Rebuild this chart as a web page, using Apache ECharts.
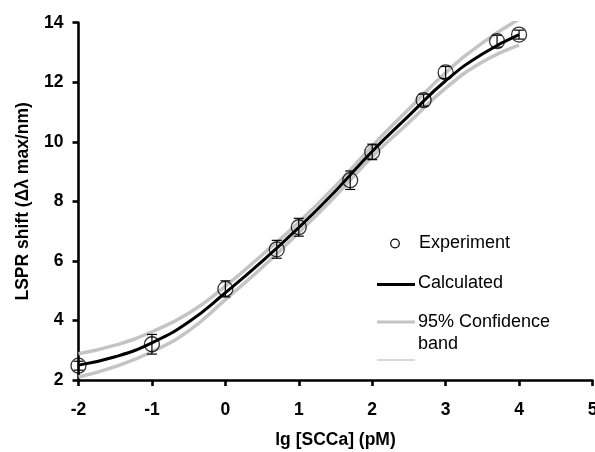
<!DOCTYPE html>
<html>
<head>
<meta charset="utf-8">
<script src="https://cdn.jsdelivr.net/npm/echarts@6/dist/echarts.min.js"></script>
<style>
html,body{margin:0;padding:0;background:#fff;}
#chart{width:595px;height:452px;}
</style>
</head>
<body>
<div id="chart"></div>
<script>
// Experimental points: lg concentration and LSPR shift
var expX = [-2, -1, 0, 0.7, 1, 1.7, 2, 2.7, 3, 3.7, 4];
var expY = [2.48, 3.2, 5.06, 6.39, 7.13, 8.71, 9.66, 11.4, 12.33, 13.38, 13.6];
var expErr = [0.15, 0.33, 0.27, 0.3, 0.3, 0.31, 0.26, 0.2, 0.2, 0.2, 0.15];

// Calculated curve and 95% confidence band
var curveX = [-2, -1.5, -1, -0.5, 0, 0.5, 1, 1.5, 2, 2.5, 3, 3.5, 4];
var calcY  = [2.5, 2.78, 3.25, 3.95, 4.93, 5.98, 7.12, 8.35, 9.68, 10.88, 12.05, 12.95, 13.6];
var upperY = [2.88, 3.17, 3.62, 4.24, 5.15, 6.2, 7.3, 8.52, 9.86, 11.1, 12.32, 13.32, 14.12];
var lowerY = [2.1, 2.45, 2.95, 3.65, 4.7, 5.78, 6.95, 8.18, 9.5, 10.65, 11.8, 12.68, 13.25];

// Axis ticks
var xTicks = [-2, -1, 0, 1, 2, 3, 4, 5];
var yTicks = [2, 4, 6, 8, 10, 12, 14];

var legendNames = ['Experiment', 'Calculated', '95% Confidence', 'band'];

function pairs(xs, ys) { return xs.map(function (x, i) { return [x, ys[i]]; }); }

var FONT = '"Liberation Sans", Arial, sans-serif';
var chart = echarts.init(document.getElementById('chart'), null, {renderer: 'canvas'});

var axisCommon = {
  axisLine: {show: true, onZero: false, lineStyle: {color: '#000', width: 2.6}},
  axisTick: {show: true, inside: false, length: 6, lineStyle: {color: '#000', width: 2.6}},
  splitLine: {show: false},
  axisLabel: {color: '#000', fontFamily: FONT, fontWeight: 'bold', fontSize: 17.5}
};

var option = {
  animation: false,
  backgroundColor: '#fff',
  grid: {left: 78.5, right: 2.5, top: 22.7, bottom: 72, containLabel: false, outerBoundsMode: 'none'},
  xAxis: Object.assign({}, axisCommon, {
    type: 'value', min: xTicks[0], max: xTicks[xTicks.length - 1], interval: 1,
    name: 'lg [SCCa] (pM)', nameLocation: 'middle', nameGap: 51,
    nameTextStyle: {color: '#000', fontFamily: FONT, fontWeight: 'bold', fontSize: 17.5},
    axisLabel: Object.assign({}, axisCommon.axisLabel, {margin: 21, showMaxLabel: true, showMinLabel: true})
  }),
  yAxis: Object.assign({}, axisCommon, {
    type: 'value', min: yTicks[0], max: yTicks[yTicks.length - 1], interval: 2,
    name: 'LSPR shift (Δλ max/nm)', nameLocation: 'middle', nameGap: 46, nameRotate: 90,
    nameTextStyle: {color: '#000', fontFamily: FONT, fontWeight: 'bold', fontSize: 17.5},
    axisLabel: Object.assign({}, axisCommon.axisLabel, {margin: 15})
  }),
  series: [
    {type: 'line', data: pairs(curveX, upperY), smooth: true, symbol: 'none',
     lineStyle: {color: '#c4c4c4', width: 3.5}, z: 1},
    {type: 'line', data: pairs(curveX, lowerY), smooth: true, symbol: 'none',
     lineStyle: {color: '#c4c4c4', width: 3.5}, z: 1},
    {type: 'line', data: pairs(curveX, calcY), smooth: true, symbol: 'none',
     lineStyle: {color: '#000', width: 3}, z: 2},
    {type: 'custom', z: 3,
     data: expX.map(function (x, i) { return [x, expY[i] - expErr[i], expY[i] + expErr[i]]; }),
     renderItem: function (params, api) {
       var lo = api.coord([api.value(0), api.value(1)]);
       var hi = api.coord([api.value(0), api.value(2)]);
       var w = 5;
       var st = {stroke: '#000', lineWidth: 1.2};
       return {type: 'group', children: [
         {type: 'line', shape: {x1: lo[0], y1: lo[1], x2: hi[0], y2: hi[1]}, style: st},
         {type: 'line', shape: {x1: lo[0] - w, y1: lo[1], x2: lo[0] + w, y2: lo[1]}, style: st},
         {type: 'line', shape: {x1: hi[0] - w, y1: hi[1], x2: hi[0] + w, y2: hi[1]}, style: st}
       ]};
     }},
    {type: 'scatter', data: pairs(expX, expY), symbol: 'circle', symbolSize: 15, z: 4,
     itemStyle: {color: 'rgba(255,255,255,0)', borderColor: '#000', borderWidth: 1.3}}
  ],
  graphic: [
    {type: 'circle', shape: {cx: 395, cy: 243.5, r: 4.3}, style: {fill: '#fff', stroke: '#000', lineWidth: 1.2}},
    {type: 'text', x: 419, y: 243.5, style: {text: legendNames[0], fill: '#000', font: '18px ' + FONT, verticalAlign: 'middle'}},
    {type: 'line', shape: {x1: 377, y1: 284.5, x2: 415, y2: 284.5}, style: {stroke: '#000', lineWidth: 3}},
    {type: 'text', x: 418, y: 283.5, style: {text: legendNames[1], fill: '#000', font: '18px ' + FONT, verticalAlign: 'middle'}},
    {type: 'line', shape: {x1: 377, y1: 322, x2: 415, y2: 322}, style: {stroke: '#c4c4c4', lineWidth: 3}},
    {type: 'text', x: 418, y: 322, style: {text: legendNames[2], fill: '#000', font: '18px ' + FONT, verticalAlign: 'middle'}},
    {type: 'text', x: 418, y: 344.5, style: {text: legendNames[3], fill: '#000', font: '18px ' + FONT, verticalAlign: 'middle'}},
    {type: 'line', shape: {x1: 377, y1: 360, x2: 415, y2: 360}, style: {stroke: '#cccccc', lineWidth: 1.5}}
  ]
};
chart.setOption(option);
</script>
</body>
</html>
